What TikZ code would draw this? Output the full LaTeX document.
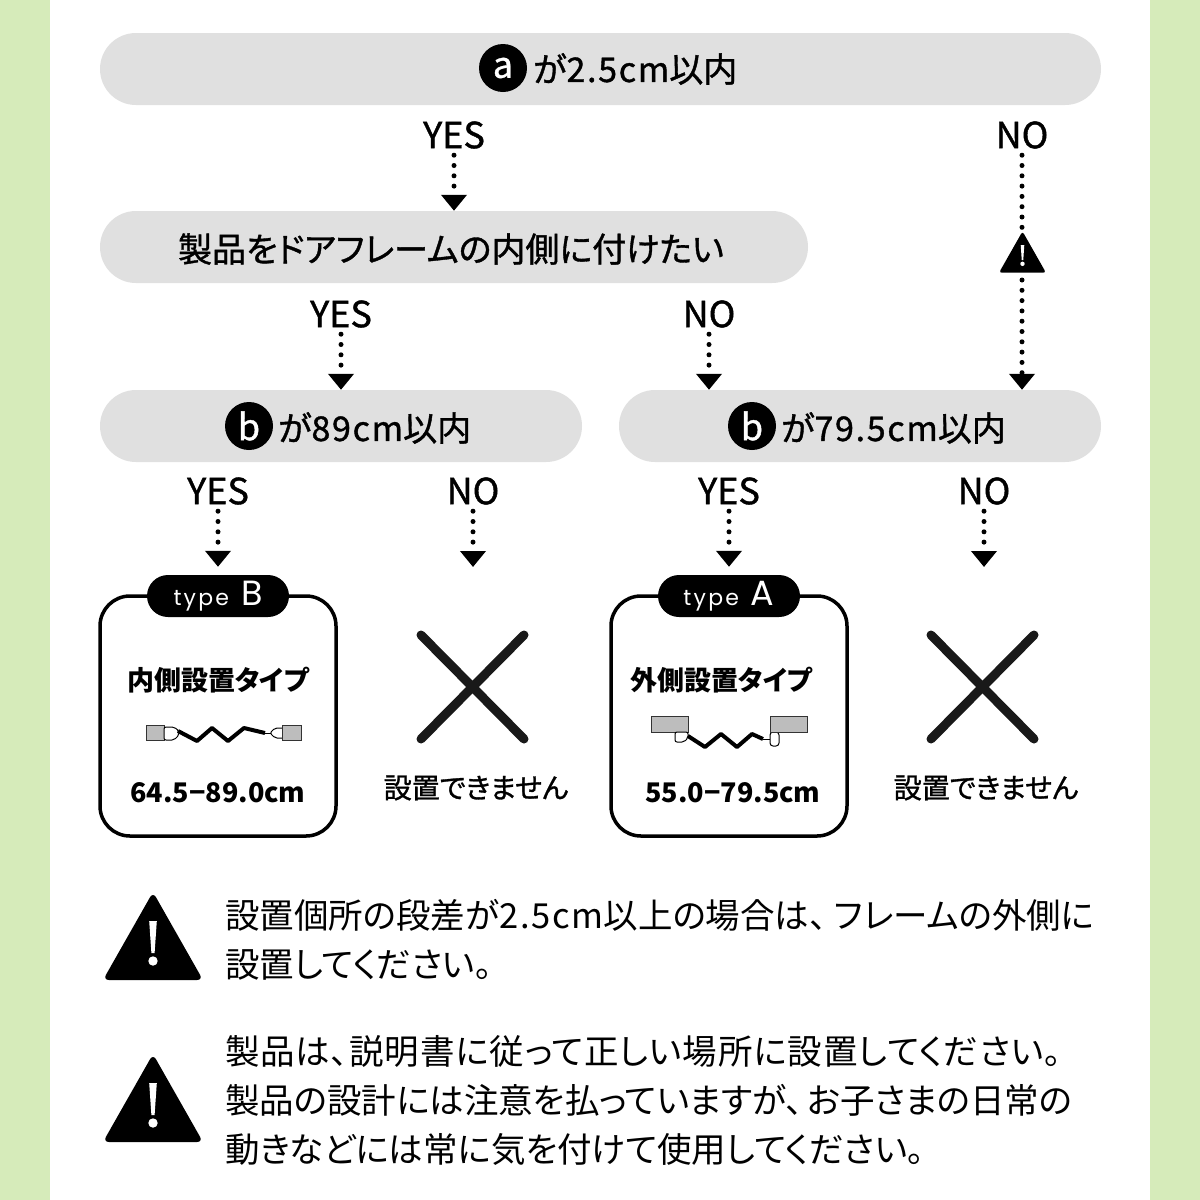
\documentclass[tikz,border=0pt]{standalone}
\usepackage{fontspec}
\usepackage{xcolor}
\usetikzlibrary{arrows.meta,calc,positioning}
\setmainfont[RawFeature=+palt]{Noto Sans CJK JP}
\newfontfamily\latinfont{Poppins}
\newfontfamily\midfont[FakeBold=1.1,RawFeature=+palt]{Noto Sans CJK JP}
\definecolor{bandgreen}{HTML}{D6EBBA}
\definecolor{pillgray}{HTML}{E0E0E0}
\definecolor{partgray}{HTML}{BDBDBD}
\newcommand{\fs}[1]{\fontsize{#1}{#1}\selectfont}
\newcommand{\lsp}[1]{{\addfontfeature{LetterSpace=5}#1}}
\newcommand{\warnsign}[3]{%
  \begin{scope}[shift={(#1,#2)}, scale=#3]
    \fill[black, rounded corners=#3*6pt] (0,-46) -- (50,42) -- (-50,42) -- cycle;
    \fill[white] (-3.8,-17) -- (3.8,-17) -- (1.6,15) -- (-1.6,15) -- cycle;
    \fill[white] (0,23) circle (4.7);
  \end{scope}}
\tikzset{
  pill/.style={fill=pillgray, rounded corners=36pt, minimum height=72pt, inner sep=0pt},
  pilltext/.style={inner sep=0pt, font=\midfont\fs{34}},
  badge/.style={circle, fill=black, text=white, minimum size=48pt, inner sep=0pt, font=\midfont\fs{36}},
  answer/.style={inner sep=0pt, minimum height=40pt, font=\midfont\fs{36}},
  flow/.style={-{Triangle[width=25pt,length=16pt]}, line width=5pt, line cap=round,
    dash pattern=on 0pt off 10.3pt, draw=black},
  typebox/.style={draw=black, line width=3.5pt, fill=white, rounded corners=30pt,
    minimum width=236pt, minimum height=240pt, inner sep=0pt},
  typetag/.style={fill=black, text=white, rounded corners=21pt, minimum width=142pt,
    minimum height=42pt, inner sep=0pt, font=\latinfont},
  boxtitle/.style={inner sep=0pt, font=\bfseries\fs{27}},
  boxrange/.style={inner sep=0pt, font=\bfseries\fs{27}},
  nofit/.style={inner sep=0pt, font=\midfont\fs{28}},
  crossline/.style={line width=9pt, line cap=round, draw=black!90},
  part/.style={draw=black!80, line width=1pt, fill=partgray},
  plug/.style={draw=black, line width=1pt, fill=white},
  wire/.style={draw=black, line width=4pt, line join=round},
  notetext/.style={anchor=west, align=left, inner sep=0pt, font=\fontsize{34.5}{49}\selectfont},
}
\begin{document}
\begin{tikzpicture}[x=1pt, y=-1pt]
\useasboundingbox (0,0) rectangle (1200,1200);

%% side bands
\fill[white] (0,0) rectangle (1200,1200);
\fill[bandgreen] (0,0) rectangle (50,1200);
\fill[bandgreen] (1150,0) rectangle (1200,1200);

%% questions
\node[pill, minimum width=1001pt] (pill_a) at (600.5, 69) {};
\node[badge] (badge_a) at (503, 68) {a};
\node[pilltext, anchor=west] (text_a) at (533, 69) {が\lsp{2.5cm}以内};

\node[pill, minimum width=708pt] (pill_frame) at (454, 247) {};
\node[pilltext] (text_frame) at (451, 249) {製品をドアフレームの内側に付けたい};

\node[pill, minimum width=482pt] (pill_in) at (341, 426) {};
\node[badge] (badge_in) at (249, 426) {b};
\node[pilltext, anchor=west] (text_in) at (278, 428) {が\lsp{89cm}以内};

\node[pill, minimum width=482pt] (pill_out) at (860, 426) {};
\node[badge] (badge_out) at (752, 426) {b};
\node[pilltext, anchor=west] (text_out) at (781, 428) {が\lsp{79.5cm}以内};

%% answers
\node[answer] (yes_a) at (454, 135) {YES};
\node[answer] (no_a) at (1022, 135) {NO};
\node[answer] (yes_frame) at (341, 314) {YES};
\node[answer] (no_frame) at (709, 314) {NO};
\node[answer] (yes_in) at (218, 491) {YES};
\node[answer] (no_in) at (473, 491) {NO};
\node[answer] (yes_out) at (729, 491) {YES};
\node[answer] (no_out) at (984, 491) {NO};

%% result boxes
\node[typebox] (box_in) at (218, 716) {};
\node[typetag] (tag_in) at (218, 596) {\fs{22}\addfontfeature{LetterSpace=10}type\hspace{12pt}\fs{35}\addfontfeature{LetterSpace=0}B};
\node[boxtitle] (title_in) at (218, 680) {内側設置タイプ};
\node[boxrange] (range_in) at (218, 793) {64.5−89.0cm};

\node[typebox] (box_out) at (729, 716) {};
\node[typetag] (tag_out) at (729, 596) {\fs{22}\addfontfeature{LetterSpace=10}type\hspace{12pt}\fs{35}\addfontfeature{LetterSpace=0}A};
\node[boxtitle] (title_out) at (721, 680) {外側設置タイプ};
\node[boxrange] (range_out) at (733, 793) {55.0−79.5cm};

%% cable, inner type
\draw[part] (146,725) rectangle (164,740);
\draw[plug, rounded corners=2pt] (164,727) -- (174,727) -- (179,731) -- (179,735) -- (174,740) -- (164,740) -- cycle;
\draw[wire] (178,731) -- (197,741) -- (212,728) -- (228,741) -- (244,728) -- (265,733);
\draw[plug] (265,733) -- (272,733);
\draw[plug, rounded corners=2pt] (282,728) -- (275,728) -- (270,733) -- (275,738) -- (282,738);
\draw[part] (282,725) rectangle (301,740);

%% cable, outer type
\draw[part] (651,716) rectangle (688,732);
\draw[plug, rounded corners=2pt] (675,732) -- (688,732) -- (688,738) -- (684,742) -- (675,742) -- cycle;
\draw[wire] (688,736) -- (705,747) -- (721,734) -- (737,747) -- (752,734) -- (763,739);
\draw[plug] (763,739) -- (770,739);
\draw[plug, rounded corners=3pt] (770,732) -- (779,732) -- (779,746) -- (770,746) -- cycle;
\draw[part] (770,716) rectangle (807,732);

%% crosses
\coordinate (cross_a1) at (421, 635);
\coordinate (cross_a2) at (524, 739);
\coordinate (cross_a3) at (524, 635);
\coordinate (cross_a4) at (421, 739);
\draw[crossline] (cross_a1) -- (cross_a2);
\draw[crossline] (cross_a3) -- (cross_a4);
\node[nofit] (nofit_in) at (476, 788) {設置できません};

\coordinate (cross_b1) at (931, 635);
\coordinate (cross_b2) at (1034, 739);
\coordinate (cross_b3) at (1034, 635);
\coordinate (cross_b4) at (931, 739);
\draw[crossline] (cross_b1) -- (cross_b2);
\draw[crossline] (cross_b3) -- (cross_b4);
\node[nofit] (nofit_out) at (986, 788) {設置できません};

%% small warning on the NO line
\warnsign{1022.5}{253}{0.47}
\coordinate (warn_top) at (1022, 229);
\coordinate (warn_bot) at (1022, 280);
\coordinate (end_in) at (473, 567);
\coordinate (end_out) at (984, 567);

%% connectors
\draw[flow] (yes_a.south) -- (yes_a.south |- pill_frame.north);
\draw[flow, -] (no_a.south) -- (warn_top);
\draw[flow] (warn_bot) -- (warn_bot |- pill_out.north);
\draw[flow] (yes_frame.south) -- (yes_frame.south |- pill_in.north);
\draw[flow] (no_frame.south) -- (no_frame.south |- pill_out.north);
\draw[flow, shorten >=8pt] (yes_in.south) -- (tag_in.north);
\draw[flow] (no_in.south) -- (end_in);
\draw[flow, shorten >=8pt] (yes_out.south) -- (tag_out.north);
\draw[flow] (no_out.south) -- (end_out);

%% notes
\warnsign{153}{938}{1}
\node[notetext] (note_a) at (225, 940) {設置個所の段差が\lsp{2.5cm}以上の場合は、\hspace{8pt}フレームの外側に\\設置してください。};

\warnsign{153}{1100}{1}
\node[notetext] (note_b) at (225, 1100) {{\addfontfeature{LetterSpace=2.5}製品は、説明書に従って正しい場所に設置してください。}\\製品の設計には注意を払っていますが、\hspace{4pt}お子さまの日常の\\動きなどには常に気を付けて使用してください。};

\end{tikzpicture}
\end{document}
